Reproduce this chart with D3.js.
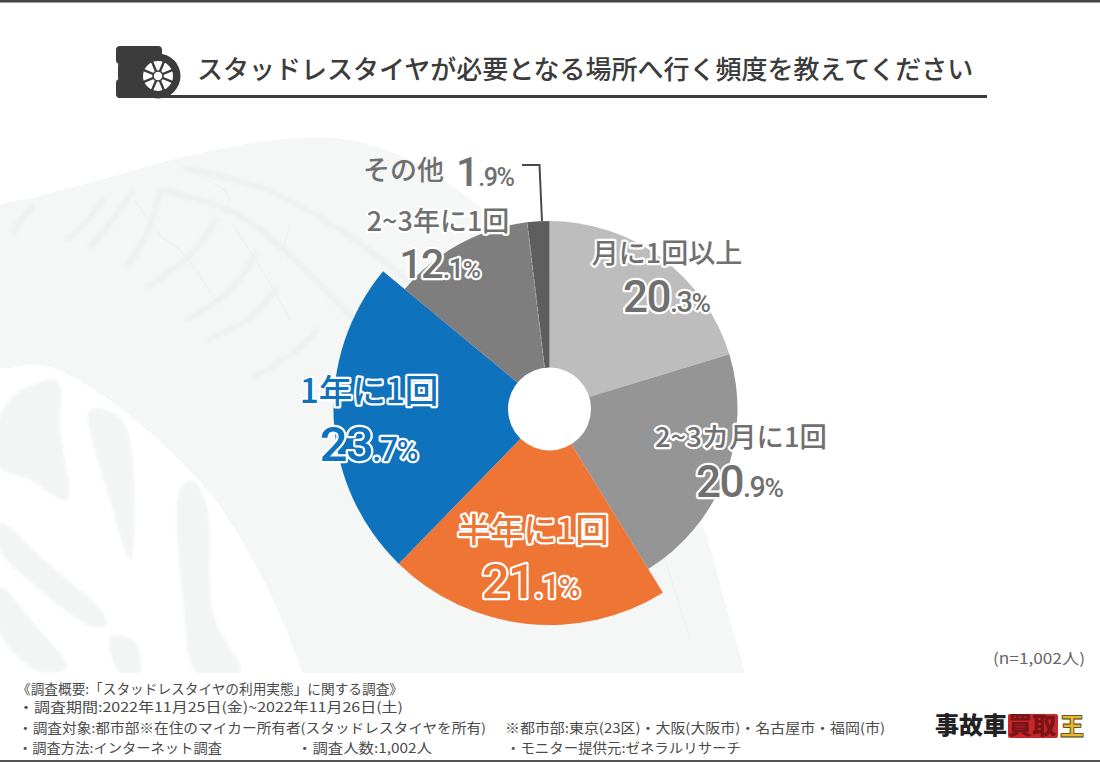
<!DOCTYPE html>
<html lang="ja">
<head>
<meta charset="utf-8">
<script src="https://cdn.jsdelivr.net/npm/d3@7"></script>
<style>
  html, body { margin: 0; padding: 0; background: #fff; }
  svg { display: block; }
  text { font-family: "Noto Sans CJK JP", "Noto Sans", sans-serif; }
  .label { paint-order: stroke; stroke: #fff; stroke-linejoin: round; }
  .pct { font-family: Roboto, "Noto Sans", sans-serif; }
</style>
</head>
<body>
<svg id="chart"></svg>
<script>
// data
const categories = ["月に1回以上", "2~3カ月に1回", "半年に1回", "1年に1回", "2~3年に1回", "その他"];
const shares = [20.3, 20.9, 21.1, 23.7, 12.1, 1.9];
const highlighted = ["半年に1回", "1年に1回"];

const title = "スタッドレスタイヤが必要となる場所へ行く頻度を教えてください";
const sampleNote = "(n=1,002人)";

const width = 1100, height = 762;
const cx = 549.5, cy = 409;

const color = d3.scaleOrdinal()
  .domain(categories)
  .range(["#bdbdbd", "#959595", "#ee7533", "#0f72bd", "#7e7e7e", "#5e5e5e"]);

const textColor = d3.scaleOrdinal()
  .domain(categories)
  .range(["#707070", "#707070", "#ee7533", "#0f72bd", "#707070", "#707070"]);

const svg = d3.select("#chart").attr("width", width).attr("height", height);

const defs = svg.append("defs");
defs.append("clipPath").attr("id", "bgclip")
  .append("rect").attr("width", width).attr("height", 673);
defs.append("filter").attr("id", "soft")
  .append("feGaussianBlur").attr("stdDeviation", 2);
defs.append("filter").attr("id", "softer")
  .append("feGaussianBlur").attr("stdDeviation", 1.5);

// frame lines
svg.append("rect").attr("width", width).attr("height", 2.5).attr("fill", "#444");
svg.append("rect").attr("y", 760).attr("width", width).attr("height", 2).attr("fill", "#555");

// faint tyre photo behind the pie
const smooth = d3.line().curve(d3.curveCatmullRom);
const closed = d3.line().curve(d3.curveCatmullRomClosed);
const bg = svg.append("g").attr("clip-path", "url(#bgclip)");

const tyre = [[-5, 210], [33, 198], [100, 180], [200, 153], [283, 139], [350, 140], [420, 165], [478, 206],
  [560, 280], [640, 390], [703, 527], [727, 610], [745, 673], [748, 690], [310, 690], [303, 673], [267, 587],
  [213, 497], [147, 430], [90, 387], [43, 365], [-5, 364]];
bg.append("path").attr("d", closed(tyre)).attr("fill", "#f5f6f6");

const grooves = [
  [[185, 168], [267, 190], [340, 230], [420, 290]],
  [[163, 190], [233, 212], [283, 249], [340, 305], [400, 370]],
  [[160, 192], [148, 230], [127, 267]],
  [[133, 190], [115, 217], [90, 247]],
  [[103, 200], [88, 220], [67, 240]],
  [[33, 206], [22, 218], [13, 233]],
  [[217, 219], [190, 255], [147, 287]],
  [[257, 252], [230, 290], [187, 320]],
  [[277, 287], [250, 318], [207, 340]],
  [[317, 330], [290, 355], [253, 377]]
];
bg.selectAll(".groove").data(grooves).enter().append("path")
  .attr("class", "groove")
  .attr("d", smooth)
  .attr("fill", "none")
  .attr("stroke", "#eceded")
  .attr("stroke-width", 4)
  .attr("stroke-linecap", "round")
  .attr("filter", "url(#soft)");

const treadLines = [
  [[135, 200], [160, 235], [180, 250], [215, 300]],
  [[233, 225], [262, 270], [290, 320]],
  [[207, 180], [228, 195], [225, 215]],
  [[290, 225], [280, 260]],
  [[600, 420], [650, 520], [690, 640]]
];
bg.selectAll(".tread").data(treadLines).enter().append("path")
  .attr("class", "tread")
  .attr("d", smooth)
  .attr("fill", "none")
  .attr("stroke", "#eff0f0")
  .attr("stroke-width", 1.2);

const rimStreaks = [
  [[0, 417], [17, 393], [57, 381], [60, 430], [67, 500], [30, 480], [0, 467]],
  [[0, 523], [50, 565], [103, 613], [106, 625], [93, 627], [40, 590], [0, 550]],
  [[0, 587], [35, 625], [67, 667], [40, 672], [0, 633]],
  [[180, 490], [193, 480], [207, 507], [213, 613], [240, 673], [197, 673], [183, 600]],
  [[110, 637], [133, 640], [140, 673], [120, 673]],
  [[90, 410], [122, 420], [135, 520], [130, 560], [110, 500]]
];
bg.selectAll(".streak").data(rimStreaks).enter().append("path")
  .attr("class", "streak")
  .attr("d", closed)
  .attr("fill", "#f3f5f5")
  .attr("filter", "url(#softer)");

// title with tyre icon
const icon = svg.append("g").attr("fill", "#3c3c3c");
[[116, 46, 46, 18], [118, 62, 34, 19], [116, 79, 46, 19]].forEach(([x, y, w, h]) => {
  icon.append("rect").attr("x", x).attr("y", y).attr("width", w).attr("height", h).attr("rx", 4);
});
icon.append("circle").attr("cx", 158).attr("cy", 76).attr("r", 22.5);
icon.append("circle").attr("cx", 158).attr("cy", 76).attr("r", 15).attr("fill", "#fff");
d3.range(8).forEach(i => {
  const a = i * Math.PI / 4 + Math.PI / 8;
  icon.append("line")
    .attr("x1", 158).attr("y1", 76)
    .attr("x2", 158 + 16 * Math.cos(a)).attr("y2", 76 + 16 * Math.sin(a))
    .attr("stroke", "#3c3c3c").attr("stroke-width", 2.4);
});
icon.append("circle").attr("cx", 158).attr("cy", 76).attr("r", 5).attr("fill", "#fff")
  .attr("stroke", "#3c3c3c").attr("stroke-width", 1.6);

svg.append("rect").attr("x", 118).attr("y", 95).attr("width", 869).attr("height", 3).attr("fill", "#3c3c3c");
svg.append("text").attr("x", 197).attr("y", 79)
  .attr("font-size", 26).attr("font-weight", 500).attr("fill", "#3c3c3c")
  .text(title);

// pie
const pie = d3.pie().sort(null).value(d => d.share);
const slices = pie(categories.map((name, i) => ({ name, share: shares[i] })));
const arc = d3.arc()
  .innerRadius(0)
  .outerRadius(d => highlighted.includes(d.data.name) ? 216 : 188);

const plot = svg.append("g").attr("transform", `translate(${cx},${cy})`);
plot.selectAll(".slice").data(slices).enter().append("path")
  .attr("class", "slice")
  .attr("d", arc)
  .attr("fill", d => color(d.data.name));

// dashed seam between the last two slices
const seam = slices[5].startAngle;
plot.append("line")
  .attr("x2", 188 * Math.sin(seam)).attr("y2", -188 * Math.cos(seam))
  .attr("stroke", "#a5a5a5").attr("stroke-width", 1).attr("stroke-dasharray", "5 2");

plot.append("circle").attr("r", 41.5).attr("fill", "#fff");

// leader for その他
svg.append("path")
  .attr("d", d3.line()([[522, 165], [539.5, 165], [542, 221]]))
  .attr("fill", "none").attr("stroke", "#4a4a4a").attr("stroke-width", 2);

// labels: [name x, name y, name size, pct x, pct y, digit size]
const labelLayout = {
  "月に1回以上": [667, 263, 27, 667, 312, 44],
  "2~3カ月に1回": [741, 447, 27.4, 740, 497, 44],
  "半年に1回": [533, 542, 33, 531, 598, 49],
  "1年に1回": [369, 403, 33.5, 369, 461, 49],
  "2~3年に1回": [438, 231, 27, 440, 278, 41]
};

slices.filter(d => labelLayout[d.data.name]).forEach(d => {
  const [nx, ny, ns, px, py, ds] = labelLayout[d.data.name];
  const fill = textColor(d.data.name);
  svg.append("text").attr("class", "label")
    .attr("x", nx).attr("y", ny).attr("text-anchor", "middle")
    .attr("font-size", ns).attr("font-weight", 500)
    .attr("fill", fill).attr("stroke-width", 4.5)
    .text(d.data.name);

  const [whole, frac] = d.data.share.toFixed(1).split(".");
  const pct = svg.append("text").attr("class", "label pct")
    .attr("x", px).attr("y", py).attr("text-anchor", "middle")
    .attr("fill", fill).attr("stroke-width", 4.5)
    .attr("font-weight", 500);
  pct.append("tspan").attr("font-size", ds).attr("letter-spacing", -1.5).text(whole);
  pct.append("tspan").attr("font-size", ds * 0.66).attr("letter-spacing", -1.5).text("." + frac);
  pct.append("tspan").attr("font-size", ds * 0.6).attr("dx", 0).text("%");
});

const other = slices[5];
svg.append("text").attr("x", 363).attr("y", 180)
  .attr("font-size", 27).attr("font-weight", 500).attr("fill", "#707070")
  .text(other.data.name);
const otherPct = svg.append("text").attr("class", "pct").attr("x", 456).attr("y", 186)
  .attr("fill", "#707070").attr("font-weight", 500);
otherPct.append("tspan").attr("font-size", 41).attr("letter-spacing", -1).text(Math.floor(other.data.share));
otherPct.append("tspan").attr("font-size", 25).attr("letter-spacing", -1.5)
  .text("." + other.data.share.toFixed(1).split(".")[1] + "%");

// notes
svg.append("text").attr("x", 993).attr("y", 664)
  .attr("textLength", 92).attr("lengthAdjust", "spacingAndGlyphs")
  .attr("font-size", 15).attr("fill", "#666").text(sampleNote);

const footnotes = [
  ["《調査概要:「スタッドレスタイヤの利用実態」に関する調査》", 17, 694, 386],
  ["・調査期間:2022年11月25日(金)~2022年11月26日(土)", 18, 712, 385],
  ["・調査対象:都市部※在住のマイカー所有者(スタッドレスタイヤを所有)", 18, 733, 468],
  ["※都市部:東京(23区)・大阪(大阪市)・名古屋市・福岡(市)", 505, 733, 380],
  ["・調査方法:インターネット調査", 18, 753, 204],
  ["・調査人数:1,002人", 297, 753, 135],
  ["・モニター提供元:ゼネラルリサーチ", 506, 753, 235]
];
svg.selectAll(".foot").data(footnotes).enter().append("text")
  .attr("class", "foot")
  .attr("x", d => d[1]).attr("y", d => d[2])
  .attr("textLength", d => d[3]).attr("lengthAdjust", "spacingAndGlyphs")
  .attr("font-size", 13.4).attr("fill", "#4a4a4a")
  .text(d => d[0]);

// logo
const logo = svg.append("g").attr("font-weight", 900).attr("font-size", 24);
logo.append("text").attr("x", 935).attr("y", 734).attr("fill", "#222").text("事故車");
logo.append("rect").attr("x", 1008).attr("y", 714).attr("width", 50).attr("height", 24).attr("rx", 2).attr("fill", "#c8282c");
logo.append("text").attr("x", 1008).attr("y", 734).attr("fill", "#7a1416").text("買取");
logo.append("text").attr("x", 1060).attr("y", 735).attr("fill", "#e8b92a")
  .attr("stroke", "#4a3a10").attr("stroke-width", 0.8).text("王");
</script>
</body>
</html>
